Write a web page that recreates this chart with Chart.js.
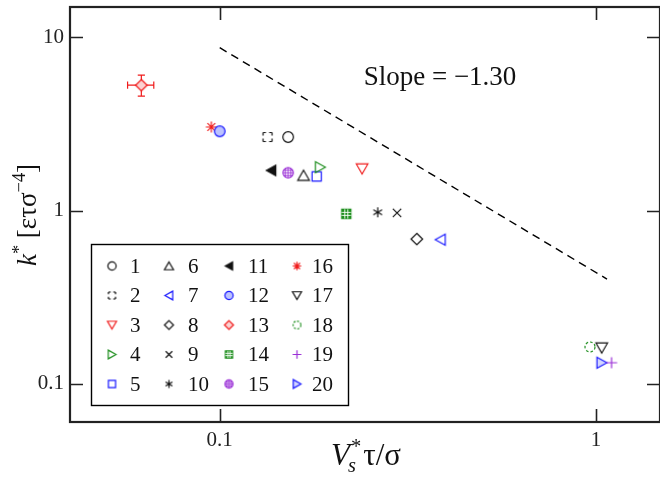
<!DOCTYPE html>
<html>
<head>
<meta charset="utf-8">
<script src="https://cdn.jsdelivr.net/npm/chart.js@4/dist/chart.umd.min.js"></script>
<style>
  html, body { margin: 0; padding: 0; background: #fff; }
  canvas { display: block; }
</style>
</head>
<body>
<canvas id="rateChart" width="660" height="478"></canvas>
<script>
// systems 1..20: one point each
var seriesNames = ['1', '2', '3', '4', '5', '6', '7', '8', '9', '10',
    '11', '12', '13', '14', '15', '16', '17', '18', '19', '20'];
var vsValues = [0.152, 0.134, 0.239, 0.185, 0.181, 0.167, 0.386, 0.334, 0.296, 0.263,
    0.137, 0.100, 0.0619, 0.217, 0.152, 0.095, 1.036, 0.964, 1.10, 1.036];
var kValues = [2.66, 2.66, 1.745, 1.78, 1.575, 1.595, 0.679, 0.684, 0.970, 0.977,
    1.706, 2.87, 5.30, 0.957, 1.654, 3.04, 0.161, 0.163, 0.132, 0.132];

// error bars on system 13
var err13X = [0.0569, 0.0668];
var err13Y = [4.58, 6.06];

// power law guide, slope -1.30
var fitX = [0.1, 1.07];
var fitY = [8.73, 0.402];

var xTickLabels = [0.1, 1];
var yTickLabels = [0.1, 1, 10];

var RED = '#f01c1c', GREEN = '#1f8f1f', BLUE = '#1a1aff', PURPLE = '#9a2fd6', BLACK = '#111';

var markerDefs = [
    { kind: 'circle', color: BLACK },
    { kind: 'dsquare', color: BLACK },
    { kind: 'tdown', color: RED },
    { kind: 'tright', color: GREEN },
    { kind: 'square', color: BLUE },
    { kind: 'tup', color: BLACK },
    { kind: 'tleft', color: BLUE },
    { kind: 'diamond', color: BLACK },
    { kind: 'cross', color: BLACK },
    { kind: 'ast6', color: BLACK },
    { kind: 'tleftf', color: BLACK },
    { kind: 'hcircle', color: BLUE, fill: '#bcc2ff' },
    { kind: 'diamond', color: RED, fill: '#fcd2d2' },
    { kind: 'gsquare', color: GREEN },
    { kind: 'gcircle', color: PURPLE },
    { kind: 'ast8', color: RED },
    { kind: 'tdown', color: BLACK },
    { kind: 'dcircle', color: GREEN },
    { kind: 'plus', color: PURPLE },
    { kind: 'tright', color: BLUE, fill: '#d3d6ff' }
];

function makeMarker(def, k) {
    var n = Math.ceil(16 * k) + 2;
    var c = document.createElement('canvas');
    c.width = n; c.height = n;
    var g = c.getContext('2d');
    var m = n / 2;
    g.strokeStyle = def.color;
    g.fillStyle = def.fill || '#fff';
    g.lineWidth = 1.2;
    g.lineCap = 'butt';
    var p = function (x, y) { return [m + x * k, m + y * k]; };
    var poly = function (pts) {
        g.beginPath();
        pts.forEach(function (q, i) {
            var a = p(q[0], q[1]);
            if (i === 0) g.moveTo(a[0], a[1]); else g.lineTo(a[0], a[1]);
        });
        g.closePath();
    };
    var seg = function (x1, y1, x2, y2) {
        var a = p(x1, y1), b = p(x2, y2);
        g.moveTo(a[0], a[1]); g.lineTo(b[0], b[1]);
    };
    switch (def.kind) {
        case 'circle':
        case 'hcircle':
            g.beginPath(); g.arc(m, m, 5.3 * k, 0, 2 * Math.PI);
            if (def.fill) g.fill();
            g.stroke();
            break;
        case 'dcircle':
            g.setLineDash([2.6 * k, 2 * k]);
            g.beginPath(); g.arc(m, m, 5.0 * k, 0, 2 * Math.PI); g.stroke();
            break;
        case 'gcircle':
            g.beginPath(); g.arc(m, m, 5.2 * k, 0, 2 * Math.PI); g.fill(); g.stroke();
            g.save(); g.clip();
            g.beginPath();
            seg(-6, 0, 6, 0); seg(0, -6, 0, 6);
            seg(-6, -2.8, 6, -2.8); seg(-6, 2.8, 6, 2.8);
            seg(-2.8, -6, -2.8, 6); seg(2.8, -6, 2.8, 6);
            g.lineWidth = 0.9; g.stroke();
            g.restore();
            break;
        case 'square':
            g.beginPath(); g.rect(m - 4.6 * k, m - 4.6 * k, 9.2 * k, 9.2 * k); g.stroke();
            break;
        case 'gsquare':
            g.fillStyle = def.color;
            g.beginPath(); g.rect(m - 4.6 * k, m - 4.6 * k, 9.2 * k, 9.2 * k); g.fill(); g.stroke();
            g.beginPath();
            seg(-4.6, -1.5, 4.6, -1.5); seg(-4.6, 1.5, 4.6, 1.5);
            seg(-1.5, -4.6, -1.5, 4.6); seg(1.5, -4.6, 1.5, 4.6);
            g.strokeStyle = '#fff'; g.lineWidth = 0.9; g.stroke();
            break;
        case 'dsquare':
            // corner brackets only
            g.beginPath();
            var s = 4.5, d = 1.6;
            seg(-s, -s, -d, -s); seg(d, -s, s, -s);
            seg(s, -s, s, -d); seg(s, d, s, s);
            seg(s, s, d, s); seg(-d, s, -s, s);
            seg(-s, s, -s, d); seg(-s, -d, -s, -s);
            g.stroke();
            break;
        case 'tup':
            poly([[0, -5.2], [5.8, 4.8], [-5.8, 4.8]]); g.stroke();
            break;
        case 'tdown':
            poly([[0, 5.2], [5.8, -4.8], [-5.8, -4.8]]);
            if (def.fill) g.fill();
            g.stroke();
            break;
        case 'tleft':
            poly([[-5.2, 0], [4.8, -5.6], [4.8, 5.6]]); g.stroke();
            break;
        case 'tleftf':
            g.fillStyle = def.color;
            poly([[-4.8, 0], [4.6, -5.2], [4.6, 5.2]]); g.fill(); g.stroke();
            break;
        case 'tright':
            poly([[5.2, 0], [-4.8, -5.6], [-4.8, 5.6]]);
            if (def.fill) g.fill();
            g.stroke();
            break;
        case 'diamond':
            poly([[0, -5.7], [5.8, 0], [0, 5.7], [-5.8, 0]]);
            if (def.fill) g.fill();
            g.stroke();
            break;
        case 'cross':
            g.beginPath(); seg(-4.2, -4.2, 4.2, 4.2); seg(-4.2, 4.2, 4.2, -4.2); g.stroke();
            break;
        case 'plus':
            g.beginPath(); seg(-5.6, 0, 5.6, 0); seg(0, -5.6, 0, 5.6); g.stroke();
            break;
        case 'ast6':
            g.beginPath();
            seg(0, -5, 0, 5);
            seg(-4.4, -2.5, 4.4, 2.5); seg(-4.4, 2.5, 4.4, -2.5);
            g.stroke();
            break;
        case 'ast8':
            g.beginPath();
            seg(0, -5.5, 0, 5.5); seg(-5.5, 0, 5.5, 0);
            seg(-3.9, -3.9, 3.9, 3.9); seg(-3.9, 3.9, 3.9, -3.9);
            g.stroke();
            break;
    }
    return c;
}

var pointMarkers = markerDefs.map(function (d) { return makeMarker(d, 1); });
var legendMarkers = markerDefs.map(function (d) { return makeMarker(d, 0.78); });

function isOneOf(v, list) {
    return list.some(function (t) { return Math.abs(Math.log10(v) - Math.log10(t)) < 1e-6; });
}

var serif = '"Liberation Serif", "Times New Roman", serif';

var datasets = seriesNames.map(function (name, i) {
    return {
        label: name,
        data: [{ x: vsValues[i], y: kValues[i] }],
        pointStyle: pointMarkers[i],
        pointRadius: 5,
        showLine: false
    };
});
datasets.push({
    type: 'line',
    label: 'fit',
    data: fitX.map(function (x, i) { return { x: x, y: fitY[i] }; }),
    borderColor: '#000',
    borderWidth: 1.4,
    borderDash: [8, 5.5],
    pointRadius: 0,
    fill: false
});

// red error bars for system 13
var errorBars = {
    id: 'errorBars',
    beforeDatasetsDraw: function (chart) {
        var ctx = chart.ctx, xs = chart.scales.x, ys = chart.scales.y;
        var cx = xs.getPixelForValue(vsValues[12]), cy = ys.getPixelForValue(kValues[12]);
        var x1 = xs.getPixelForValue(err13X[0]), x2 = xs.getPixelForValue(err13X[1]);
        var y1 = ys.getPixelForValue(err13Y[0]), y2 = ys.getPixelForValue(err13Y[1]);
        var cap = 3.6;
        ctx.save();
        ctx.strokeStyle = RED;
        ctx.lineWidth = 1.2;
        ctx.beginPath();
        ctx.moveTo(x1, cy); ctx.lineTo(x2, cy);
        ctx.moveTo(cx, y1); ctx.lineTo(cx, y2);
        ctx.moveTo(x1, cy - cap); ctx.lineTo(x1, cy + cap);
        ctx.moveTo(x2, cy - cap); ctx.lineTo(x2, cy + cap);
        ctx.moveTo(cx - cap, y1); ctx.lineTo(cx + cap, y1);
        ctx.moveTo(cx - cap, y2); ctx.lineTo(cx + cap, y2);
        ctx.stroke();
        ctx.restore();
    }
};

function drawXTitle(ctx, cx, baseY) {
    var fs = 31;
    var f = function (it, s) { return (it ? 'italic ' : '') + s + 'px ' + serif; };
    ctx.font = f(true, fs); var wV = ctx.measureText('V').width;
    ctx.font = f(true, fs * 0.66); var wS = ctx.measureText('s').width;
    ctx.font = f(false, fs * 0.66); var wStar = ctx.measureText('*').width;
    ctx.font = f(false, fs); var wR = ctx.measureText('τ/σ').width;
    var wStack = Math.max(wS, wStar) + 3;
    var x = cx - (wV + wStack + wR) / 2;
    ctx.textAlign = 'left';
    ctx.textBaseline = 'alphabetic';
    ctx.font = f(true, fs); ctx.fillText('V', x, baseY);
    x += wV;
    ctx.font = f(false, fs * 0.66); ctx.fillText('*', x + 1, baseY - fs * 0.38);
    ctx.font = f(true, fs * 0.66); ctx.fillText('s', x - 2, baseY + fs * 0.22);
    x += wStack;
    ctx.font = f(false, fs); ctx.fillText('τ/σ', x, baseY);
}

function drawYTitle(ctx, baseX, cy) {
    var fs = 27;
    var f = function (it, s) { return (it ? 'italic ' : '') + s + 'px ' + serif; };
    var runs = [
        { t: 'k', it: true, s: 1, dy: 0 },
        { t: '*', it: false, s: 0.68, dy: -0.42 },
        { t: ' [ετσ', it: false, s: 1, dy: 0 },
        { t: '−4', it: false, s: 0.68, dy: -0.42 },
        { t: ']', it: false, s: 1, dy: 0 }
    ];
    var total = 0;
    runs.forEach(function (r) {
        ctx.font = f(r.it, fs * r.s);
        r.w = ctx.measureText(r.t).width;
        total += r.w;
    });
    ctx.save();
    ctx.translate(baseX, cy);
    ctx.rotate(-Math.PI / 2);
    ctx.textAlign = 'left';
    ctx.textBaseline = 'alphabetic';
    var x = -total / 2;
    runs.forEach(function (r) {
        ctx.font = f(r.it, fs * r.s);
        ctx.fillText(r.t, x, r.dy * fs);
        x += r.w;
    });
    ctx.restore();
}

// frame with inward ticks on all sides, titles, legend box, slope note
var decorations = {
    id: 'decorations',
    afterDraw: function (chart) {
        var ctx = chart.ctx, a = chart.chartArea;
        var xs = chart.scales.x, ys = chart.scales.y;
        ctx.save();
        ctx.strokeStyle = '#222';
        ctx.lineWidth = 1.6;
        ctx.beginPath();
        xs.ticks.forEach(function (t) {
            var px = Math.round(xs.getPixelForValue(t.value)) + 0.5;
            if (px < a.left + 2 || px > a.right - 2) return;
            var len = isOneOf(t.value, xTickLabels) ? 13 : 7.5;
            ctx.moveTo(px, a.bottom); ctx.lineTo(px, a.bottom - len);
            ctx.moveTo(px, a.top); ctx.lineTo(px, a.top + len);
        });
        ys.ticks.forEach(function (t) {
            var py = Math.round(ys.getPixelForValue(t.value)) + 0.5;
            if (py < a.top + 2 || py > a.bottom - 2) return;
            var len = isOneOf(t.value, yTickLabels) ? 13 : 7.5;
            ctx.moveTo(a.left, py); ctx.lineTo(a.left + len, py);
            ctx.moveTo(a.right, py); ctx.lineTo(a.right - len, py);
        });
        ctx.stroke();
        ctx.lineWidth = 2.2;
        ctx.strokeRect(a.left, a.top, a.right - a.left, a.bottom - a.top);

        // legend
        var lx = a.left + 21, ly = a.top + 237, lw = 257, lh = 161;
        ctx.strokeStyle = '#000';
        ctx.lineWidth = 1.4;
        ctx.fillStyle = '#fff';
        ctx.fillRect(lx, ly, lw, lh);
        ctx.strokeRect(lx + 0.5, ly + 0.5, lw, lh);
        var markX = [21, 78, 138, 206], textX = [39, 97, 157, 221];
        ctx.fillStyle = '#111';
        ctx.font = '21px ' + serif;
        ctx.textAlign = 'left';
        ctx.textBaseline = 'middle';
        seriesNames.forEach(function (name, i) {
            var col = Math.floor(i / 5), row = i % 5;
            var ry = ly + 22 + row * 29.5;
            Chart.helpers.drawPoint(ctx, { pointStyle: legendMarkers[i], radius: 4, rotation: 0 },
                lx + markX[col], ry);
            ctx.fillText(name, lx + textX[col], ry + 1);
        });

        ctx.font = '27px ' + serif;
        ctx.textAlign = 'center';
        ctx.textBaseline = 'alphabetic';
        ctx.fillText('Slope = \u22121.30', 440, 85);

        ctx.fillStyle = '#111';
        drawXTitle(ctx, 366, 465);
        drawYTitle(ctx, 36, 215);
        ctx.restore();
    }
};

new Chart(document.getElementById('rateChart'), {
    type: 'scatter',
    data: { datasets: datasets },
    options: {
        responsive: false,
        animation: false,
        layout: { autoPadding: false, padding: { top: 7, right: 0, left: 0, bottom: 0 } },
        plugins: {
            legend: { display: false },
            tooltip: { enabled: false }
        },
        scales: {
            x: {
                type: 'logarithmic',
                min: 0.04,
                max: 1.48,
                border: { display: false },
                grid: { display: false, drawTicks: false },
                ticks: {
                    autoSkip: false,
                    maxRotation: 0,
                    padding: 6,
                    color: '#222',
                    font: { family: serif, size: 21 },
                    callback: function (v) { return isOneOf(v, xTickLabels) ? String(+v.toPrecision(3)) : null; }
                },
                afterFit: function (scale) {
                    scale.height = 56;
                    scale.paddingLeft = 0;
                    scale.paddingRight = 0;
                }
            },
            y: {
                type: 'logarithmic',
                min: 0.06,
                max: 15,
                border: { display: false },
                grid: { display: false, drawTicks: false },
                ticks: {
                    autoSkip: false,
                    padding: 6,
                    color: '#222',
                    font: { family: serif, size: 21 },
                    callback: function (v) { return isOneOf(v, yTickLabels) ? String(+v.toPrecision(3)) : null; }
                },
                afterFit: function (scale) {
                    scale.width = 70;
                    scale.paddingTop = 0;
                    scale.paddingBottom = 0;
                }
            }
        }
    },
    plugins: [errorBars, decorations]
});
</script>
</body>
</html>
